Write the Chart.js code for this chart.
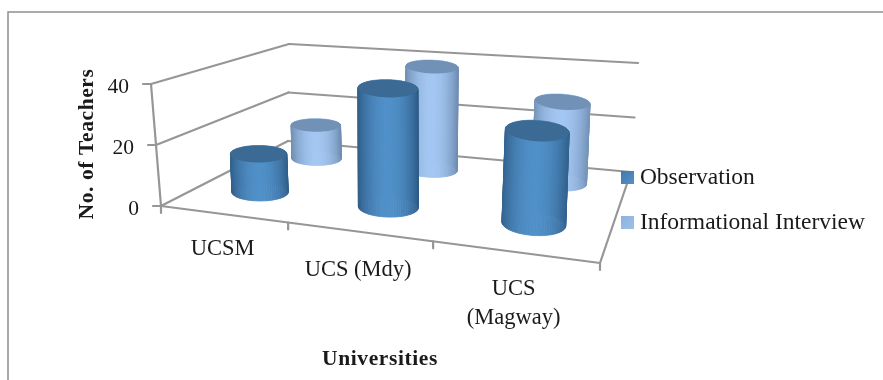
<!DOCTYPE html>
<html>
<head>
<meta charset="utf-8">
<style>
  html, body { margin: 0; padding: 0; background: #fff; }
  canvas { display: block; }
</style>
<script src="https://cdn.jsdelivr.net/npm/chart.js@4/dist/chart.umd.min.js"></script>
</head>
<body>
<canvas id="chart" width="883" height="380"></canvas>
<script>
// Chart data
const categories = ['UCSM', 'UCS (Mdy)', ['UCS', '(Magway)']];
const observation = [13, 38, 28];
const informationalInterview = [13, 38, 28];
const seriesNames = ['Observation', 'Informational Interview'];
const valueTicks = { min: 0, max: 40, step: 20 };

// Appearance of each series: edge and centre of the cylinder wall, cap, legend swatch
const seriesLook = [
  { edge: [46, 90, 132], mid: [80, 144, 200], cap: '#3b6a94', swatch: ['#4079ad', '#5491c8'] },
  { edge: [108, 137, 173], mid: [163, 199, 242], cap: '#7291b6', swatch: ['#8fb2dc', '#9cc0ea'] }
];

const serifFont = '"Liberation Serif", serif';
const lineColor = '#969696';

// 3D plot box on screen: floor corners (front-left, front-right, back-right, back-left)
// and the wall corners at the axis maximum
const floorCorners = [[161, 206], [600, 263], [631, 172], [288, 141]];
const topCorners = { frontLeft: [151, 84], backRight: [638, 63], backLeft: [289, 44] };
// Camera: where uprights converge, and the axis height at unit perspective
const verticalVanish = [400, 3850];
const fullHeight = 123;
// Vertical drop of each category label below the floor edge
const labelDrop = [35, 38, 37];

// Perspective map from the unit square onto a quadrilateral; also returns the divisor
function squareToQuad(q) {
  const [p0, p1, p2, p3] = q;
  const sx = p0[0] - p1[0] + p2[0] - p3[0], sy = p0[1] - p1[1] + p2[1] - p3[1];
  const dx1 = p1[0] - p2[0], dx2 = p3[0] - p2[0], dy1 = p1[1] - p2[1], dy2 = p3[1] - p2[1];
  const det = dx1 * dy2 - dx2 * dy1;
  const g = (sx * dy2 - dx2 * sy) / det, h = (dx1 * sy - sx * dy1) / det;
  const a = p1[0] - p0[0] + g * p1[0], b = p3[0] - p0[0] + h * p3[0];
  const d = p1[1] - p0[1] + g * p1[1], e = p3[1] - p0[1] + h * p3[1];
  return (u, w) => {
    const k = 1 + g * u + h * w;
    return [(a * u + b * w + p0[0]) / k, (d * u + e * w + p0[1]) / k, k];
  };
}
const floorMap = squareToQuad(floorCorners);

// u: along the categories, depth: front to back, v: share of the value axis
function project(u, depth, v) {
  const [x, y, k] = floorMap(u, depth);
  const rise = fullHeight / k * v;
  const lean = (x - verticalVanish[0]) / (verticalVanish[1] - y);
  return [x + lean * rise, y - rise, k];
}

function lerpPoint(a, b, t) {
  return [a[0] + (b[0] - a[0]) * t, a[1] + (b[1] - a[1]) * t];
}

function segment(ctx, a, b) {
  ctx.beginPath();
  ctx.moveTo(a[0], a[1]);
  ctx.lineTo(b[0], b[1]);
  ctx.stroke();
}

function drawCylinder(ctx, u, depth, v, look) {
  const steps = 72;
  const ring = level => {
    const [cx, cy, k] = project(u, depth, level);
    const a = 29.5 / k;
    const b = 9.7 / (k * k) * (1 - 0.12 * level);
    const tilt = Math.max(0, cx - 300) * 0.0003;
    const pts = [];
    for (let i = 0; i <= steps; i++) {
      const t = i / steps * Math.PI * 2;
      const ex = a * Math.cos(t), ey = b * Math.sin(t);
      pts.push([cx + ex * Math.cos(tilt) - ey * Math.sin(tilt), cy + ex * Math.sin(tilt) + ey * Math.cos(tilt)]);
    }
    return pts;
  };
  const base = ring(0), top = ring(v);
  const xs = base.concat(top).map(p => p[0]);
  const minX = Math.min(...xs), maxX = Math.max(...xs);

  const shade = x => {
    const t = (x - minX) / (maxX - minX);
    const k = Math.pow(Math.sin(Math.PI * Math.min(1, Math.max(0, t))), 0.75);
    const c = look.edge.map((e, i) => Math.round(e + (look.mid[i] - e) * k));
    return `rgb(${c[0]},${c[1]},${c[2]})`;
  };

  // Wall strips around the column
  ctx.lineWidth = 0.8;
  for (let i = 0; i < steps; i++) {
    const color = shade((base[i][0] + base[i + 1][0] + top[i][0] + top[i + 1][0]) / 4);
    ctx.fillStyle = color;
    ctx.strokeStyle = color;
    ctx.beginPath();
    ctx.moveTo(base[i][0], base[i][1]);
    ctx.lineTo(base[i + 1][0], base[i + 1][1]);
    ctx.lineTo(top[i + 1][0], top[i + 1][1]);
    ctx.lineTo(top[i][0], top[i][1]);
    ctx.closePath();
    ctx.fill();
    ctx.stroke();
  }

  // Cap
  ctx.fillStyle = look.cap;
  ctx.beginPath();
  top.forEach((p, i) => (i ? ctx.lineTo(p[0], p[1]) : ctx.moveTo(p[0], p[1])));
  ctx.closePath();
  ctx.fill();
}

// Draws the 3D box, its axes and labels behind the datasets
const boxFrame = {
  id: 'boxFrame',
  beforeDraw(chart) {
    const { ctx, scales: { x, y } } = chart;
    ctx.save();
    ctx.fillStyle = '#fff';
    ctx.fillRect(0, 0, chart.width, chart.height);

    // Outer chart border
    ctx.strokeStyle = '#8e8e8e';
    ctx.lineWidth = 1.5;
    ctx.beginPath();
    ctx.moveTo(8, chart.height);
    ctx.lineTo(8, 12);
    ctx.lineTo(chart.width, 12);
    ctx.stroke();

    ctx.strokeStyle = lineColor;
    ctx.lineWidth = 2.2;
    ctx.lineCap = 'round';

    // Value gridlines over the left and back walls, with ticks and labels
    ctx.fillStyle = '#1a1a1a';
    ctx.font = '21.5px ' + serifFont;
    ctx.textAlign = 'right';
    ctx.textBaseline = 'middle';
    y.ticks.forEach(tick => {
      const v = (y.bottom - y.getPixelForValue(tick.value)) / y.height;
      const front = lerpPoint(floorCorners[0], topCorners.frontLeft, v);
      const back = lerpPoint(floorCorners[3], topCorners.backLeft, v);
      const right = lerpPoint(floorCorners[2], topCorners.backRight, v);
      segment(ctx, [front[0] - 8, front[1]], front);
      segment(ctx, front, back);
      segment(ctx, back, right);
      ctx.fillText(tick.label, front[0] - 22, front[1] + 3);
    });

    // Left wall edge
    segment(ctx, floorCorners[0], topCorners.frontLeft);

    // Floor outline
    segment(ctx, floorCorners[0], floorCorners[1]);
    segment(ctx, floorCorners[1], floorCorners[2]);

    // Category ticks along the front edge of the floor
    const count = categories.length;
    for (let i = 0; i <= count; i++) {
      const p = project(i / count, 0, 0);
      segment(ctx, p, [p[0], p[1] + 7]);
    }

    // Category labels
    ctx.textAlign = 'center';
    ctx.font = '22.5px ' + serifFont;
    categories.forEach((label, i) => {
      const u = (x.getPixelForValue(i) - x.left) / x.width;
      const p = project(u, 0, 0);
      const lines = Array.isArray(label) ? label : [label];
      lines.forEach((line, n) => ctx.fillText(line, p[0], p[1] + labelDrop[i] + n * 29));
    });

    // Axis titles
    ctx.font = 'bold 21.5px ' + serifFont;
    ctx.letterSpacing = '0.6px';
    ctx.fillText('Universities', 380, 359);
    ctx.translate(87, 144);
    ctx.rotate(-Math.PI / 2);
    ctx.fillText('No. of Teachers', 0, 0);
    ctx.restore();
  }
};

// Replaces the flat bars with cylinders standing on the floor of the box
const cylinders = {
  id: 'cylinders',
  afterDatasetsDraw(chart) {
    const { ctx, scales: { x, y } } = chart;
    const total = chart.data.datasets.length;
    ctx.save();
    for (let ds = total - 1; ds >= 0; ds--) {
      chart.data.datasets[ds].data.forEach((value, i) => {
        const u = (x.getPixelForValue(i) - x.left) / x.width;
        const v = (y.bottom - y.getPixelForValue(value)) / y.height;
        // Columns stand slightly right of and behind their nominal slot
        drawCylinder(ctx, u * 1.008, (ds + 0.5) / total + 0.015, v, seriesLook[ds]);
      });
    }
    ctx.restore();
  }
};

function swatch(look) {
  const c = document.createElement('canvas');
  c.width = 13;
  c.height = 13;
  const g = c.getContext('2d');
  const grad = g.createLinearGradient(0, 0, 13, 13);
  grad.addColorStop(0, look.swatch[0]);
  grad.addColorStop(1, look.swatch[1]);
  g.fillStyle = grad;
  g.fillRect(0, 0, 13, 13);
  return c;
}

new Chart(document.getElementById('chart'), {
  type: 'bar',
  data: {
    labels: categories,
    datasets: [
      { label: seriesNames[0], data: observation, backgroundColor: 'transparent' },
      { label: seriesNames[1], data: informationalInterview, backgroundColor: 'transparent' }
    ]
  },
  plugins: [boxFrame, cylinders],
  options: {
    responsive: false,
    animation: false,
    events: [],
    layout: { padding: { top: 20, right: 8, bottom: 0, left: 0 } },
    scales: {
      x: { display: false },
      y: { display: false, min: valueTicks.min, max: valueTicks.max, ticks: { stepSize: valueTicks.step } }
    },
    plugins: {
      tooltip: { enabled: false },
      legend: {
        position: 'right',
        labels: {
          color: '#1a1a1a',
          font: { family: serifFont, size: 23.5 },
          boxWidth: 1.5,
          usePointStyle: true,
          padding: 21.5,
          generateLabels: chart => chart.data.datasets.map((d, i) => ({
            text: d.label,
            datasetIndex: i,
            fontColor: '#1a1a1a',
            pointStyle: swatch(seriesLook[i]),
            lineWidth: 0,
            hidden: false
          }))
        }
      }
    }
  }
});
</script>
</body>
</html>
